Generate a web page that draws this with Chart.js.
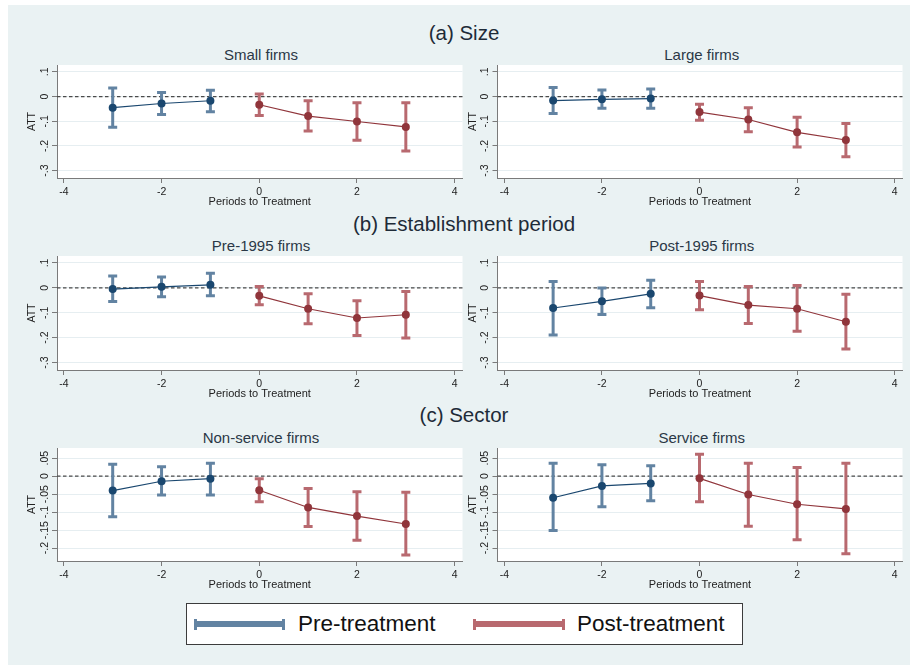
<!DOCTYPE html>
<html>
<head>
<meta charset="utf-8">
<title>ATT by firm group</title>
<script src="https://cdn.jsdelivr.net/npm/chart.js@4.4.1/dist/chart.umd.min.js"></script>
<style>
  html, body { margin: 0; padding: 0; background: #ffffff; }
  body { width: 910px; height: 665px; position: relative; overflow: hidden;
         font-family: "Liberation Sans", Arial, sans-serif; }
  #bg { position: absolute; left: 8px; top: 5px; width: 902px; height: 660px; background: #eaf2f3; }
  canvas { position: absolute; }
  .sec { position: absolute; left: 264px; width: 400px; text-align: center;
         font-size: 20.5px; line-height: 22px; color: #1e2b38; white-space: nowrap; }
  .ptitle { position: absolute; text-align: center; font-size: 15px; line-height: 16px;
            color: #2a3846; white-space: nowrap; }
  #legend { position: absolute; left: 186px; top: 603px; width: 557px; height: 42px;
            box-sizing: border-box; border: 1px solid #3c3c3c; background: #ffffff; }
  .lg-line { position: absolute; height: 6px; top: 17px; }
  .lg-cap { position: absolute; width: 3px; height: 11px; top: -2.5px; }
  .lg-text { position: absolute; top: 7px; font-size: 22.5px; line-height: 26px; color: #111111; white-space: nowrap; }
</style>
</head>
<body>
<div id="bg"></div>

<div class="sec" style="top:22px">(a) Size</div>
<div class="sec" style="top:213px">(b) Establishment period</div>
<div class="sec" style="top:404px">(c) Sector</div>

<div class="ptitle" style="left:57px;width:408px;top:46.5px">Small firms</div>
<div class="ptitle" style="left:497.5px;width:408.5px;top:46.5px">Large firms</div>
<div class="ptitle" style="left:57px;width:408px;top:238px">Pre-1995 firms</div>
<div class="ptitle" style="left:497.5px;width:408.5px;top:238px">Post-1995 firms</div>
<div class="ptitle" style="left:57px;width:408px;top:430px">Non-service firms</div>
<div class="ptitle" style="left:497.5px;width:408.5px;top:430px">Service firms</div>

<canvas id="cSmall" width="470" height="153" style="left:0px;top:57px"></canvas>
<canvas id="cLarge" width="470" height="153" style="left:440px;top:57px"></canvas>
<canvas id="cPre95" width="470" height="154" style="left:0px;top:248px"></canvas>
<canvas id="cPost95" width="470" height="154" style="left:440px;top:248px"></canvas>
<canvas id="cNonServ" width="470" height="153" style="left:0px;top:440px"></canvas>
<canvas id="cServ" width="470" height="153" style="left:440px;top:440px"></canvas>

<div id="legend">
  <div class="lg-line" style="left:7px;width:91px;background:#6283a2">
    <div class="lg-cap" style="left:0;background:#6283a2"></div>
    <div class="lg-cap" style="right:0;background:#6283a2"></div>
  </div>
  <div class="lg-text" style="left:111px">Pre-treatment</div>
  <div class="lg-line" style="left:286px;width:92px;background:#b8696f">
    <div class="lg-cap" style="left:0;background:#b8696f"></div>
    <div class="lg-cap" style="right:0;background:#b8696f"></div>
  </div>
  <div class="lg-text" style="left:390px">Post-treatment</div>
</div>

<script>
// ---- Event-time periods and axis ticks ----
const periodsPre = [-3, -2, -1];
const periodsPost = [0, 1, 2, 3];
const xTickValues = [-4, -2, 0, 2, 4];
const yTicksWide = [-0.3, -0.2, -0.1, 0, 0.1];
const yTickLabelsWide = ['-.3', '-.2', '-.1', '0', '.1'];
const yTicksNarrow = [-0.2, -0.15, -0.1, -0.05, 0, 0.05];
const yTickLabelsNarrow = ['-.2', '-.15', '-.1', '-.05', '0', '.05'];

// ---- (a) Size: small firms ----
const smallPre = [-0.045, -0.028, -0.017];
const smallPreLo = [-0.124, -0.073, -0.061];
const smallPreHi = [0.035, 0.017, 0.026];
const smallPost = [-0.033, -0.079, -0.101, -0.123];
const smallPostLo = [-0.077, -0.140, -0.177, -0.221];
const smallPostHi = [0.010, -0.017, -0.025, -0.025];

// ---- (a) Size: large firms ----
const largePre = [-0.016, -0.011, -0.008];
const largePreLo = [-0.069, -0.047, -0.047];
const largePreHi = [0.037, 0.027, 0.031];
const largePost = [-0.063, -0.093, -0.145, -0.176];
const largePostLo = [-0.096, -0.143, -0.204, -0.244];
const largePostHi = [-0.031, -0.045, -0.084, -0.109];

// ---- (b) Establishment period: pre-1995 ----
const pre95Pre = [-0.005, 0.004, 0.012];
const pre95PreLo = [-0.055, -0.036, -0.032];
const pre95PreHi = [0.048, 0.044, 0.059];
const pre95Post = [-0.032, -0.084, -0.121, -0.108];
const pre95PostLo = [-0.068, -0.144, -0.191, -0.201];
const pre95PostHi = [0.005, -0.024, -0.052, -0.015];

// ---- (b) Establishment period: post-1995 ----
const post95Pre = [-0.081, -0.054, -0.024];
const post95PreLo = [-0.189, -0.107, -0.080];
const post95PreHi = [0.026, -0.001, 0.031];
const post95Post = [-0.031, -0.069, -0.084, -0.136];
const post95PostLo = [-0.088, -0.143, -0.174, -0.246];
const post95PostHi = [0.026, 0.005, 0.009, -0.026];

// ---- (c) Sector: non-service ----
const nonServPre = [-0.040, -0.014, -0.007];
const nonServPreLo = [-0.113, -0.052, -0.052];
const nonServPreHi = [0.033, 0.026, 0.036];
const nonServPost = [-0.039, -0.087, -0.111, -0.133];
const nonServPostLo = [-0.071, -0.140, -0.178, -0.219];
const nonServPostHi = [-0.007, -0.034, -0.043, -0.045];

// ---- (c) Sector: service ----
const servPre = [-0.060, -0.027, -0.020];
const servPreLo = [-0.151, -0.085, -0.068];
const servPreHi = [0.036, 0.032, 0.029];
const servPost = [-0.006, -0.051, -0.078, -0.091];
const servPostLo = [-0.071, -0.139, -0.177, -0.216];
const servPostHi = [0.061, 0.036, 0.024, 0.036];

// ---- Styling ----
const FONT_FAMILY = '"Liberation Sans", Arial, sans-serif';
const NAVY = '#1a476f';
const MAROON = '#90353b';
const NAVY_CI = '#6283a2';
const MAROON_CI = '#b8696f';
const AXIS_GREY = '#7a7a7a';
const GRID = '#e6eef1';
const TEXT = '#222222';
const TICK_SIZE = 10.5;

Chart.defaults.font.family = FONT_FAMILY;

// Width of the widest y tick label, used to centre the rotated labels 12px left of the axis
const measureCtx = document.createElement('canvas').getContext('2d');
function widestLabel(labels) {
  measureCtx.font = 'normal ' + TICK_SIZE + 'px ' + FONT_FAMILY;
  return Math.max(...labels.map(l => measureCtx.measureText(l).width));
}

// Vertical whisker segments (lo→hi) separated by gaps; caps come from the 'line' point style
function ciPoints(xs, lo, hi) {
  const pts = [];
  xs.forEach((x, i) => {
    pts.push({ x: x, y: lo[i] }, { x: x, y: hi[i] }, { x: x, y: null });
  });
  return pts;
}
function estPoints(xs, ys) {
  return xs.map((x, i) => ({ x: x, y: ys[i] }));
}

const plotBackground = {
  id: 'plotBackground',
  beforeDraw(chart) {
    const { ctx, chartArea: a } = chart;
    ctx.save();
    ctx.fillStyle = '#ffffff';
    ctx.fillRect(a.left, a.top, a.right - a.left, a.bottom - a.top);
    ctx.restore();
  }
};

const zeroLine = {
  id: 'zeroLine',
  beforeDatasetsDraw(chart) {
    const { ctx, chartArea: a, scales } = chart;
    const y = scales.y.getPixelForValue(0);
    ctx.save();
    ctx.strokeStyle = '#4a4a4a';
    ctx.lineWidth = 1.2;
    ctx.setLineDash([3.5, 2.5]);
    ctx.beginPath();
    ctx.moveTo(a.left, y);
    ctx.lineTo(a.right, y);
    ctx.stroke();
    ctx.restore();
  }
};

function makePanel(id, cfg) {
  const isRight = cfg.side === 'right';
  const yAxisWidth = isRight ? 57.5 : 57;
  const tickPad = 7 - widestLabel(cfg.tickLabels) / 2;

  new Chart(document.getElementById(id), {
    type: 'line',
    data: {
      datasets: [
        { data: estPoints(periodsPre, cfg.pre), borderColor: NAVY, borderWidth: 1.2,
          pointRadius: 4, pointBackgroundColor: NAVY, pointBorderWidth: 0, tension: 0 },
        { data: estPoints(periodsPost, cfg.post), borderColor: MAROON, borderWidth: 1.2,
          pointRadius: 4, pointBackgroundColor: MAROON, pointBorderWidth: 0, tension: 0 },
        { data: ciPoints(periodsPre, cfg.preLo, cfg.preHi), borderColor: NAVY_CI, borderWidth: 3,
          borderCapStyle: 'butt', spanGaps: false, pointStyle: 'line', pointRadius: 4.5,
          pointBorderColor: NAVY_CI, pointBorderWidth: 3 },
        { data: ciPoints(periodsPost, cfg.postLo, cfg.postHi), borderColor: MAROON_CI, borderWidth: 3,
          borderCapStyle: 'butt', spanGaps: false, pointStyle: 'line', pointRadius: 4.5,
          pointBorderColor: MAROON_CI, pointBorderWidth: 3 }
      ]
    },
    options: {
      responsive: false,
      animation: false,
      devicePixelRatio: 1,
      events: [],
      layout: { padding: { left: 0, right: isRight ? 4 : 5, top: 8, bottom: 0 } },
      plugins: { legend: { display: false }, tooltip: { enabled: false }, title: { display: false } },
      scales: {
        x: {
          type: 'linear', min: -4.14, max: 4.16,
          afterBuildTicks: s => { s.ticks = xTickValues.map(v => ({ value: v })); },
          afterFit: s => { s.height = 32; },
          ticks: { autoSkip: false, maxRotation: 0, padding: 3, color: TEXT,
                   font: { size: TICK_SIZE }, callback: v => String(v) },
          grid: { drawOnChartArea: false, drawTicks: true, tickLength: 5, color: AXIS_GREY },
          border: { display: true, color: AXIS_GREY, width: 1 },
          title: { display: true, text: 'Periods to Treatment', color: TEXT,
                   font: { size: 11 }, padding: { top: 0, bottom: 1 } }
        },
        y: {
          type: 'linear', min: cfg.yMin, max: cfg.yMax,
          afterBuildTicks: s => { s.ticks = cfg.ticks.map(v => ({ value: v })); },
          afterFit: s => { s.width = yAxisWidth; },
          ticks: { autoSkip: false, minRotation: 90, maxRotation: 90, crossAlign: 'center',
                   padding: tickPad, color: TEXT, font: { size: TICK_SIZE },
                   callback: (v, i) => cfg.tickLabels[i] },
          grid: { drawOnChartArea: true, color: GRID, lineWidth: 1, drawTicks: true,
                  tickLength: 5, tickColor: AXIS_GREY },
          border: { display: true, color: AXIS_GREY, width: 1 },
          title: { display: true, text: 'ATT', color: TEXT, font: { size: TICK_SIZE },
                   padding: { top: yAxisWidth - 31, bottom: 0 } }
        }
      }
    },
    plugins: [plotBackground, zeroLine]
  });
}

const wide = { yMin: -0.33, yMax: 0.128, ticks: yTicksWide, tickLabels: yTickLabelsWide };
const narrow = { yMin: -0.236, yMax: 0.0785, ticks: yTicksNarrow, tickLabels: yTickLabelsNarrow };

makePanel('cSmall', Object.assign({ side: 'left', pre: smallPre, preLo: smallPreLo, preHi: smallPreHi,
  post: smallPost, postLo: smallPostLo, postHi: smallPostHi }, wide));
makePanel('cLarge', Object.assign({ side: 'right', pre: largePre, preLo: largePreLo, preHi: largePreHi,
  post: largePost, postLo: largePostLo, postHi: largePostHi }, wide));
makePanel('cPre95', Object.assign({ side: 'left', pre: pre95Pre, preLo: pre95PreLo, preHi: pre95PreHi,
  post: pre95Post, postLo: pre95PostLo, postHi: pre95PostHi }, wide));
makePanel('cPost95', Object.assign({ side: 'right', pre: post95Pre, preLo: post95PreLo, preHi: post95PreHi,
  post: post95Post, postLo: post95PostLo, postHi: post95PostHi }, wide));
makePanel('cNonServ', Object.assign({ side: 'left', pre: nonServPre, preLo: nonServPreLo, preHi: nonServPreHi,
  post: nonServPost, postLo: nonServPostLo, postHi: nonServPostHi }, narrow));
makePanel('cServ', Object.assign({ side: 'right', pre: servPre, preLo: servPreLo, preHi: servPreHi,
  post: servPost, postLo: servPostLo, postHi: servPostHi }, narrow));
</script>
</body>
</html>
